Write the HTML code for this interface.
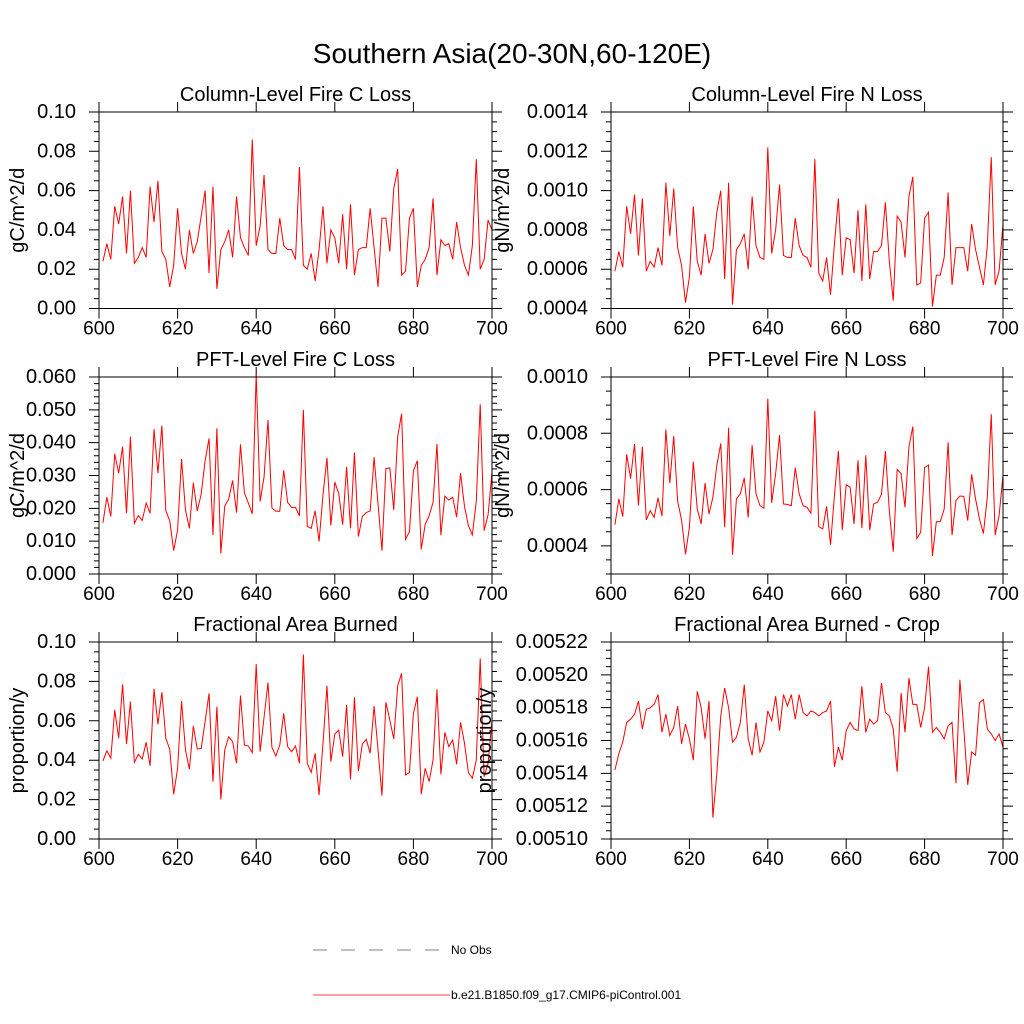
<!DOCTYPE html>
<html><head><meta charset="utf-8"><style>
html,body{margin:0;padding:0;background:#fff;}
svg{display:block;font-family:"Liberation Sans",sans-serif;}
</style></head><body>
<svg id="chart" width="1024" height="1024" viewBox="0 0 1024 1024" xmlns="http://www.w3.org/2000/svg">
<rect width="1024" height="1024" fill="#fff"/>
<text x="512" y="63" font-size="28" text-anchor="middle">Southern Asia(20-30N,60-120E)</text>
<g>
<line x1="313" y1="950" x2="450" y2="950" stroke="#555" stroke-width="0.8" stroke-dasharray="14,14"/>
<text x="451" y="954" font-size="12">No Obs</text>
<line x1="313" y1="995" x2="450" y2="995" stroke="#f00" stroke-width="0.8"/>
<text x="451" y="999" font-size="12">b.e21.B1850.f09_g17.CMIP6-piControl.001</text>
</g>
<g id="panels"></g>
</svg>
<script>
const years = [];
for (let y = 601; y <= 700; y++) years.push(y);
const xTicks = [600, 620, 640, 660, 680, 700];
const colC = [0.024,0.033,0.025,0.052,0.043,0.057,0.028,0.060,0.023,0.026,
0.031,0.026,0.062,0.044,0.065,0.029,0.025,0.011,0.022,0.051,
0.028,0.020,0.040,0.028,0.034,0.047,0.060,0.018,0.062,0.010,
0.030,0.034,0.040,0.026,0.057,0.036,0.031,0.027,0.086,0.032,
0.042,0.068,0.030,0.028,0.028,0.046,0.032,0.030,0.030,0.025,
0.072,0.022,0.020,0.028,0.014,0.030,0.052,0.023,0.040,0.036,
0.023,0.048,0.020,0.053,0.017,0.030,0.031,0.031,0.051,0.031,
0.011,0.046,0.046,0.029,0.061,0.071,0.017,0.019,0.046,0.051,
0.011,0.022,0.025,0.031,0.056,0.017,0.035,0.032,0.033,0.025,
0.044,0.031,0.022,0.017,0.032,0.076,0.020,0.025,0.045,0.040];
const colN = [0.00059,0.00069,0.00061,0.00092,0.00078,0.00098,0.00067,0.00096,0.00059,0.00064,
0.00061,0.00071,0.00062,0.00104,0.00077,0.00101,0.00071,0.00062,0.00043,0.00056,
0.00092,0.00064,0.00057,0.00078,0.00063,0.00070,0.00089,0.00100,0.00055,0.00104,
0.00042,0.00070,0.00073,0.00078,0.00060,0.00097,0.00072,0.00066,0.00065,0.00122,
0.00068,0.00080,0.00103,0.00067,0.00066,0.00066,0.00086,0.00072,0.00067,0.00066,
0.00061,0.00116,0.00058,0.00054,0.00066,0.00047,0.00073,0.00096,0.00057,0.00076,
0.00075,0.00058,0.00090,0.00054,0.00093,0.00055,0.00069,0.00069,0.00072,0.00094,
0.00064,0.00044,0.00087,0.00084,0.00066,0.00097,0.00107,0.00052,0.00053,0.00086,
0.00089,0.00041,0.00057,0.00057,0.00066,0.00099,0.00052,0.00071,0.00071,0.00071,
0.00059,0.00083,0.00070,0.00061,0.00052,0.00072,0.00117,0.00052,0.00059,0.00083];
const pftC = [0.0156,0.0234,0.0175,0.0366,0.0307,0.0388,0.0185,0.0418,0.0154,0.0178,
0.0163,0.0216,0.0185,0.0441,0.0307,0.0452,0.0193,0.0162,0.0071,0.0134,
0.0350,0.0195,0.0139,0.0278,0.0192,0.0243,0.0345,0.0413,0.0119,0.0444,
0.0063,0.0207,0.0228,0.0285,0.0187,0.0395,0.0247,0.0216,0.0183,0.0610,
0.0221,0.0296,0.0469,0.0201,0.0191,0.0191,0.0316,0.0218,0.0203,0.0203,
0.0177,0.0500,0.0145,0.0139,0.0193,0.0099,0.0242,0.0354,0.0148,0.0280,
0.0245,0.0150,0.0326,0.0139,0.0370,0.0114,0.0175,0.0187,0.0192,0.0356,
0.0213,0.0071,0.0321,0.0323,0.0195,0.0419,0.0488,0.0106,0.0129,0.0314,
0.0345,0.0075,0.0151,0.0177,0.0218,0.0396,0.0118,0.0237,0.0225,0.0234,
0.0173,0.0307,0.0206,0.0147,0.0119,0.0221,0.0517,0.0132,0.0180,0.0311];
const pftN = [0.000475,0.000567,0.000504,0.000725,0.000639,0.000762,0.000543,0.000752,0.000492,0.000525,
0.000501,0.000571,0.000506,0.000814,0.000623,0.000790,0.000559,0.000492,0.000370,0.000466,
0.000699,0.000531,0.000478,0.000623,0.000513,0.000573,0.000687,0.000764,0.000466,0.000820,
0.000368,0.000567,0.000585,0.000642,0.000501,0.000758,0.000585,0.000543,0.000534,0.000923,
0.000553,0.000657,0.000794,0.000549,0.000547,0.000543,0.000678,0.000585,0.000543,0.000537,
0.000516,0.000880,0.000468,0.000460,0.000540,0.000404,0.000579,0.000737,0.000456,0.000617,
0.000609,0.000478,0.000704,0.000463,0.000722,0.000456,0.000549,0.000555,0.000583,0.000737,
0.000525,0.000379,0.000671,0.000657,0.000537,0.000752,0.000824,0.000426,0.000448,0.000678,
0.000687,0.000364,0.000486,0.000486,0.000531,0.000768,0.000438,0.000561,0.000577,0.000576,
0.000490,0.000654,0.000567,0.000496,0.000444,0.000573,0.000868,0.000438,0.000507,0.000651];
const fracArea = [0.0396,0.0448,0.0410,0.0655,0.0511,0.0785,0.0482,0.0697,0.0389,0.0430,
0.0406,0.0491,0.0371,0.0761,0.0582,0.0745,0.0511,0.0455,0.0227,0.0359,
0.0700,0.0452,0.0354,0.0574,0.0457,0.0460,0.0596,0.0739,0.0291,0.0672,
0.0201,0.0452,0.0519,0.0494,0.0384,0.0728,0.0477,0.0472,0.0438,0.0888,
0.0443,0.0618,0.0794,0.0465,0.0421,0.0477,0.0638,0.0469,0.0443,0.0472,
0.0384,0.0937,0.0384,0.0338,0.0435,0.0223,0.0486,0.0778,0.0393,0.0533,
0.0553,0.0418,0.0680,0.0303,0.0719,0.0345,0.0482,0.0506,0.0435,0.0675,
0.0452,0.0220,0.0694,0.0604,0.0508,0.0778,0.0841,0.0325,0.0338,0.0638,
0.0722,0.0228,0.0359,0.0291,0.0401,0.0760,0.0328,0.0541,0.0469,0.0503,
0.0379,0.0592,0.0486,0.0337,0.0308,0.0400,0.0917,0.0316,0.0384,0.0604];
const fracCrop = [0.005142,0.005152,0.005159,0.005171,0.005173,0.005176,0.005184,0.005167,0.005179,0.005180,
0.005182,0.005188,0.005165,0.005176,0.005163,0.005168,0.005181,0.005158,0.005170,0.005161,
0.005148,0.005190,0.005180,0.005161,0.005184,0.005113,0.005140,0.005175,0.005192,0.005180,
0.005159,0.005162,0.005171,0.005194,0.005161,0.005151,0.005171,0.005153,0.005159,0.005178,
0.005172,0.005187,0.005166,0.005188,0.005181,0.005188,0.005173,0.005188,0.005177,0.005175,
0.005178,0.005177,0.005175,0.005177,0.005178,0.005184,0.005144,0.005156,0.005148,0.005166,
0.005171,0.005167,0.005166,0.005193,0.005165,0.005173,0.005170,0.005172,0.005195,0.005177,
0.005175,0.005167,0.005141,0.005189,0.005165,0.005198,0.005182,0.005182,0.005168,0.005180,
0.005205,0.005165,0.005168,0.005165,0.005161,0.005169,0.005171,0.005134,0.005197,0.005167,
0.005133,0.005153,0.005151,0.005183,0.005185,0.005167,0.005164,0.005160,0.005164,0.005156];

const NS = 'http://www.w3.org/2000/svg';
const root = document.getElementById('panels');
function mk(tag, attrs, parent) {
  const e = document.createElementNS(NS, tag);
  for (const k in attrs) e.setAttribute(k, attrs[k]);
  parent.appendChild(e);
  return e;
}
const panels = [
  {name:'column-fire-c', title:'Column-Level Fire C Loss', ylab:'gC/m^2/d', data:colC, L:99, R:492, T:112, B:308.5, ymin:0, ymax:0.10, major:0.02, minor:0.005, dec:2, labx:18},
  {name:'column-fire-n', title:'Column-Level Fire N Loss', ylab:'gN/m^2/d', data:colN, L:611, R:1003, T:112, B:308.5, ymin:0.0004, ymax:0.0014, major:0.0002, minor:0.00005, dec:4, labx:503},
  {name:'pft-fire-c', title:'PFT-Level Fire C Loss', ylab:'gC/m^2/d', data:pftC, L:99, R:492, T:377, B:574, ymin:0, ymax:0.060, major:0.01, minor:0.002, dec:3, labx:18},
  {name:'pft-fire-n', title:'PFT-Level Fire N Loss', ylab:'gN/m^2/d', data:pftN, L:611, R:1003, T:377, B:574, ymin:0.0003, ymax:0.0010, major:0.0002, minor:0.00005, dec:4, labx:503, tick0:0.0004},
  {name:'frac-area', title:'Fractional Area Burned', ylab:'proportion/y', data:fracArea, L:99, R:492, T:642, B:839, ymin:0, ymax:0.10, major:0.02, minor:0.005, dec:2, labx:18},
  {name:'frac-crop', title:'Fractional Area Burned - Crop', ylab:'proportion/y', data:fracCrop, L:611, R:1003, T:642, B:839, ymin:0.00510, ymax:0.00522, major:0.00002, minor:0.000005, dec:5, labx:485}
];
panels.forEach(p => {
  const g = mk('g', {}, root);
  
  
  const xs = v => p.L + (v - 600) * (p.R - p.L) / 100;
  const ys = v => p.B - (v - p.ymin) * (p.B - p.T) / (p.ymax - p.ymin);
  const t = mk('text', {x:(p.L+p.R)/2, y:p.T-11, 'font-size':20, 'text-anchor':'middle'}, g);
  t.textContent = p.title;
  
  
  const yl = mk('text', {x:p.labx, y:(p.T+p.B)/2, 'font-size':20, 'text-anchor':'middle', transform:`rotate(-90 ${p.labx} ${(p.T+p.B)/2})`, 'dominant-baseline':'central'}, g);
  yl.textContent = p.ylab;
  
  
  const nMin = Math.round((p.ymax - p.ymin) / p.minor);
  let d = '';
  for (let i = 0; i <= nMin; i++) {
    const y = ys(p.ymin + i * p.minor);
    d += `M${p.L-5},${y}H${p.L}M${p.R},${y}H${p.R+5}`;
  }
  const start = p.tick0 !== undefined ? p.tick0 : p.ymin;
  const nMaj = Math.round((p.ymax - start) / p.major);
  for (let i = 0; i <= nMaj; i++) {
    const v = start + i * p.major;
    const y = ys(v);
    d += `M${p.L-10},${y}H${p.L}M${p.R},${y}H${p.R+10}`;
    const lb = mk('text', {x:p.L-23, y:y, 'font-size':20, 'text-anchor':'end', 'dominant-baseline':'central'}, g);
    lb.textContent = v.toFixed(p.dec);
    
    
  }
  xTicks.forEach(v => {
    const x = xs(v);
    d += `M${x},${p.B}V${p.B+10}M${x},${p.T}V${p.T-10}`;
    const lb = mk('text', {x:x, y:p.B+26, 'font-size':19, 'text-anchor':'middle'}, g);
    lb.textContent = v;
    
    
  });
  const tk = mk('path', {d:d, stroke:'#000', 'stroke-width':1, fill:'none'}, g);
  
  
  const pts = p.data.map((v, i) => `${xs(years[i]).toFixed(2)},${ys(v).toFixed(2)}`).join(' ');
  const line = mk('polyline', {points:pts, fill:'none', stroke:'#f00', 'stroke-width':1}, g);
  
  
  const box = mk('rect', {x:p.L, y:p.T, width:p.R-p.L, height:p.B-p.T, fill:'none', stroke:'#000', 'stroke-width':1}, g);
  
  
});
</script>
</body></html>
